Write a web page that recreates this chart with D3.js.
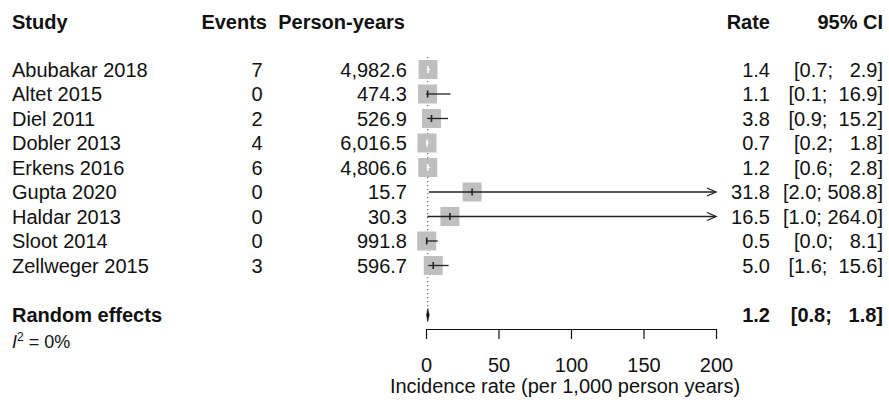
<!DOCTYPE html>
<html>
<head>
<meta charset="utf-8">
<script src="https://cdn.jsdelivr.net/npm/d3@7"></script>
<style>
  html, body { margin: 0; padding: 0; background: #fff; }
  svg text { font-family: "Liberation Sans", Arial, Helvetica, sans-serif; fill: #111; white-space: pre; }
</style>
</head>
<body>
<svg id="chart" width="889" height="403"></svg>
<script>
// Study-level data
const studies = ["Abubakar 2018", "Altet 2015", "Diel 2011", "Dobler 2013", "Erkens 2016",
                 "Gupta 2020", "Haldar 2013", "Sloot 2014", "Zellweger 2015"];
const events = [7, 0, 2, 4, 6, 0, 0, 0, 3];
const personYears = [4982.6, 474.3, 526.9, 6016.5, 4806.6, 15.7, 30.3, 991.8, 596.7];
const rate = [1.4, 1.1, 3.8, 0.7, 1.2, 31.8, 16.5, 0.5, 5.0];
const lower = [0.7, 0.1, 0.9, 0.2, 0.6, 2.0, 1.0, 0.0, 1.6];
const upper = [2.9, 16.9, 15.2, 1.8, 2.8, 508.8, 264.0, 8.1, 15.6];

// Pooled estimate
const pooledLabel = "Random effects";
const pooledRate = 1.2;
const pooledLower = 0.8;
const pooledUpper = 1.8;
const i2Value = "0%";

// Axis
const xTicks = [0, 50, 100, 150, 200];
const xLabel = "Incidence rate (per 1,000 person years)";
const headers = ["Study", "Events", "Person-years", "Rate", "95% CI"];

const svg = d3.select("#chart");
const FS = 20;

const x = d3.scaleLinear().domain([0, 200]).range([426, 716]);
const y = d3.scalePoint().domain(studies).range([69.5, 265.5]);
const yPooled = 315;
const yHeader = 22;
const yAxis = 329;

const rows = studies.map((s, i) => ({
  study: s, events: events[i], py: personYears[i],
  rate: rate[i], lo: lower[i], hi: upper[i]
}));

// Column positions (anchor x, alignment)
const col = {
  study: { x: 12, anchor: "start" },
  events: { x: 262.5, anchor: "end" },
  py: { x: 407, anchor: "end" },
  rate: { x: 770, anchor: "end" },
  ci: { x: 883, anchor: "end" }
};

const fmt1 = d3.format(".1f");
const fmtPY = d3.format(",.1f");
// Upper CI bounds are padded to a common width with spaces
const upWidth = d3.max(upper.concat([pooledUpper]), v => fmt1(v).length);
const ciText = (lo, hi) => "[" + fmt1(lo) + "; " + fmt1(hi).padStart(upWidth, " ") + "]";

// Headers
const hdrX = [
  { t: headers[0], x: 12, a: "start" },
  { t: headers[1], x: 267, a: "end" },
  { t: headers[2], x: 405, a: "end" },
  { t: headers[3], x: 770, a: "end" },
  { t: headers[4], x: 883, a: "end" }
];
svg.append("g").selectAll("text").data(hdrX).join("text")
  .attr("x", d => d.x).attr("y", yHeader).attr("dy", "0.36em")
  .attr("text-anchor", d => d.a)
  .attr("font-size", FS).attr("font-weight", "bold")
  .text(d => d.t);

// Study text columns
const txt = svg.append("g");
const cols = [
  { key: "study", f: d => d.study },
  { key: "events", f: d => String(d.events) },
  { key: "py", f: d => fmtPY(d.py) },
  { key: "rate", f: d => fmt1(d.rate) },
  { key: "ci", f: d => ciText(d.lo, d.hi) }
];
cols.forEach(c => {
  txt.selectAll("text." + c.key).data(rows).join("text")
    .attr("class", c.key)
    .attr("x", col[c.key].x).attr("y", d => y(d.study)).attr("dy", "0.36em")
    .attr("text-anchor", col[c.key].anchor)
    .attr("font-size", FS)
    .text(c.f);
});

// Pooled row text
const pooledG = svg.append("g").attr("font-weight", "bold");
pooledG.append("text").attr("x", col.study.x).attr("y", yPooled).attr("dy", "0.36em")
  .attr("font-size", FS).text(pooledLabel);
pooledG.append("text").attr("x", col.rate.x).attr("y", yPooled).attr("dy", "0.36em")
  .attr("text-anchor", "end").attr("font-size", FS).text(fmt1(pooledRate));
pooledG.append("text").attr("x", col.ci.x).attr("y", yPooled).attr("dy", "0.36em")
  .attr("text-anchor", "end").attr("font-size", FS).text(ciText(pooledLower, pooledUpper));

// Heterogeneity
const het = svg.append("text").attr("x", 12).attr("y", 348).attr("font-size", 18);
het.append("tspan").attr("font-style", "italic").text("I");
het.append("tspan").attr("font-size", 12).attr("dy", -7).text("2");
het.append("tspan").attr("dy", 7).text(" = " + i2Value);

// Reference line at pooled estimate
svg.append("line")
  .attr("x1", x(pooledRate)).attr("x2", x(pooledRate))
  .attr("y1", 57).attr("y2", 308)
  .attr("stroke", "#444").attr("stroke-width", 1)
  .attr("stroke-dasharray", "1.2,2.8");

// Squares and confidence intervals
const BOX = 19;
const plot = svg.append("g");
const [xmin, xmax] = x.domain();
rows.forEach(d => {
  const cx = x(d.rate), cy = y(d.study);
  plot.append("rect")
    .attr("x", cx - BOX / 2).attr("y", cy - BOX / 2)
    .attr("width", BOX).attr("height", BOX)
    .attr("fill", "#bfbfbf");
  const lo = Math.max(d.lo, xmin), hi = Math.min(d.hi, xmax);
  const inside = x(d.lo) >= cx - BOX / 2 && x(d.hi) <= cx + BOX / 2;
  const c = inside ? "#fff" : "#222";
  plot.append("line")
    .attr("x1", x(lo)).attr("x2", x(hi)).attr("y1", cy).attr("y2", cy)
    .attr("stroke", c).attr("stroke-width", 1.3);
  plot.append("line")
    .attr("x1", cx).attr("x2", cx).attr("y1", cy - 3.5).attr("y2", cy + 3.5)
    .attr("stroke", c).attr("stroke-width", 1.6);
  if (d.hi > xmax) {
    const tx = x(xmax);
    plot.append("path")
      .attr("d", `M${tx - 9},${cy - 4}L${tx},${cy}L${tx - 9},${cy + 4}`)
      .attr("fill", "none").attr("stroke", "#222").attr("stroke-width", 1.3);
  }
});

// Pooled diamond
const dh = 6.5;
const dx0 = x(pooledLower), dx1 = x(pooledUpper), dxm = x(pooledRate);
plot.append("path")
  .attr("d", `M${dx0 - 0.6},${yPooled}L${dxm},${yPooled - dh}L${dx1 + 0.6},${yPooled}L${dxm},${yPooled + dh}Z`)
  .attr("fill", "#111").attr("stroke", "#111").attr("stroke-width", 0.6);

// X axis
const axis = svg.append("g")
  .attr("transform", `translate(0,${yAxis})`)
  .call(d3.axisBottom(x).tickValues(xTicks).tickSize(10).tickSizeOuter(0).tickPadding(19));
axis.select(".domain").attr("stroke", "#111").attr("stroke-width", 1.2);
axis.selectAll(".tick line").attr("stroke", "#111").attr("stroke-width", 1.2);
axis.selectAll(".tick text")
  .attr("font-size", FS)
  .attr("font-family", "Liberation Sans, Arial, Helvetica, sans-serif")
  .attr("fill", "#111");

svg.append("text")
  .attr("x", 565).attr("y", 393)
  .attr("text-anchor", "middle")
  .attr("font-size", FS)
  .text(xLabel);
</script>
</body>
</html>
